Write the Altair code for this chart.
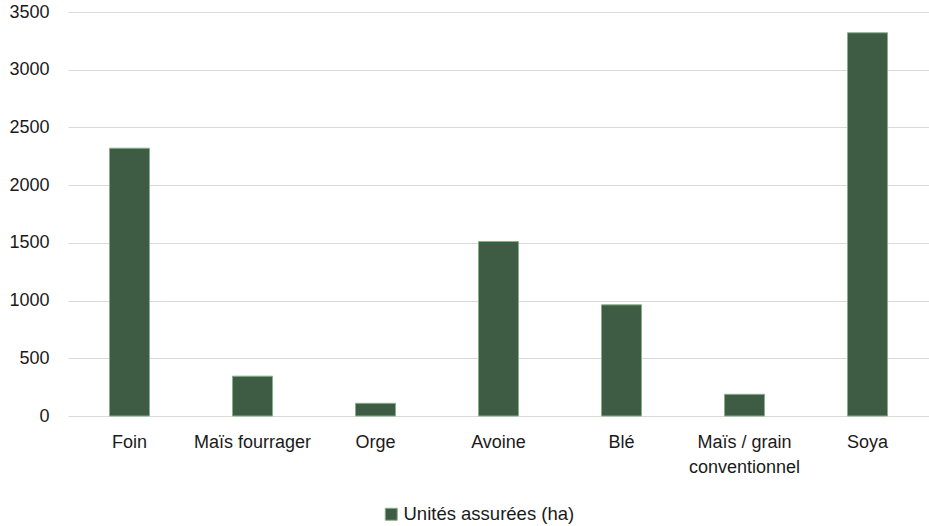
import altair as alt
import pandas as pd

categories = ["Foin", "Maïs fourrager", "Orge", "Avoine", "Blé", "Maïs / grain conventionnel", "Soya"]
values = [2320, 345, 110, 1512, 963, 188, 3320]
series_name = "Unités assurées (ha)"
y_ticks = [0, 500, 1000, 1500, 2000, 2500, 3000, 3500]

df = pd.DataFrame({"cat": categories, "val": values, "serie": [series_name] * len(categories)})

label_expr = "datum.value == 'Maïs / grain conventionnel' ? ['Maïs / grain', 'conventionnel'] : datum.value"

chart = alt.Chart(df).mark_bar(stroke="#86B08A", strokeWidth=1).encode(
    x=alt.X("cat:N", sort=categories, title=None,
            scale=alt.Scale(paddingInner=0.675, paddingOuter=0.3375),
            axis=alt.Axis(labelAngle=0, labelExpr=label_expr, ticks=False, domain=False,
                          labelPadding=17, labelFontSize=18, labelLineHeight=25,
                          labelFont="Liberation Sans", labelColor="#1a1a1a", grid=False)),
    y=alt.Y("val:Q", title=None, scale=alt.Scale(domain=[0, 3500], nice=False),
            axis=alt.Axis(values=y_ticks, format="d", ticks=False, domain=False, labelPadding=19,
                          labelFontSize=18, labelFont="Liberation Sans", labelColor="#1a1a1a",
                          gridColor="#d9d9d9", gridWidth=1.2)),
    color=alt.Color("serie:N", scale=alt.Scale(range=["#3E5B44"]),
                    legend=alt.Legend(title=None, orient="none", legendX=314, legendY=493,
                                      symbolType="square", symbolSize=144,
                                      symbolStrokeColor="#86B08A", symbolStrokeWidth=1,
                                      labelFontSize=18.5, labelFont="Liberation Sans",
                                      labelColor="#1a1a1a", labelOffset=3, labelLimit=0)),
).properties(
    width=861, height=404,
    autosize=alt.AutoSizeParams(type="none"),
    padding={"left": 68, "top": 12, "right": 0, "bottom": 110},
).configure_view(stroke=None)

chart.save("out.html", embed_options={"renderer": "svg", "actions": False})
